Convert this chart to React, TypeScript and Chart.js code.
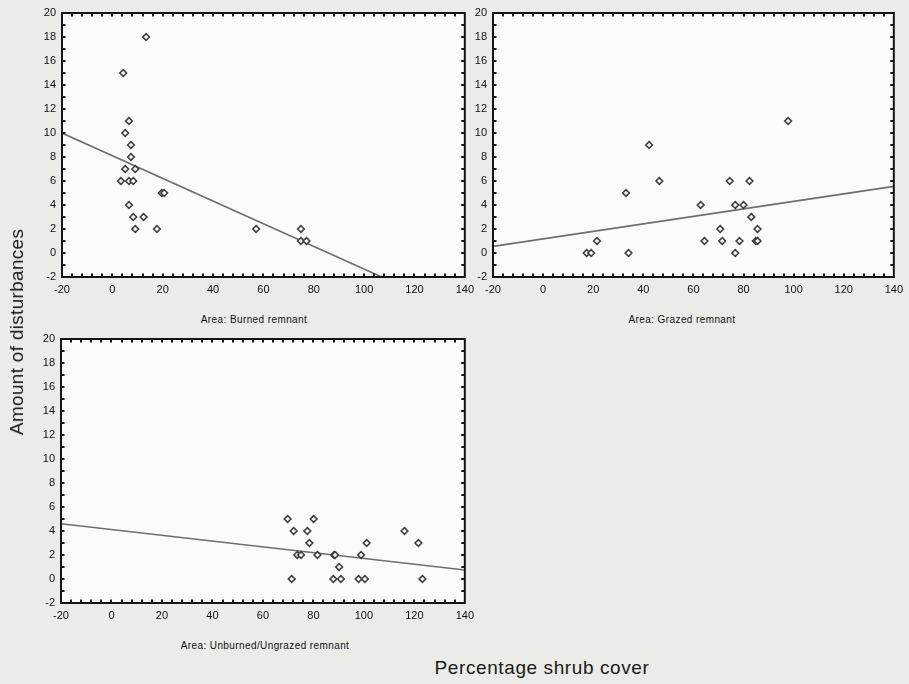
import React, { useEffect, useRef } from "react";
import { Chart, registerables } from "chart.js";

Chart.register(...registerables);

// ---- axis ranges / ticks ----
const X_MIN = -20;
const X_MAX = 140;
const X_STEP = 20;
const X_MINOR = 4;
const Y_MIN = -2;
const Y_MAX = 20;
const Y_STEP = 2;
const Y_MINOR = 1;

// ---- data: Burned remnant ----
const burnedX = [13.4, 4.3, 6.6, 5.1, 7.4, 7.4, 5.1, 9.1, 3.4, 6.6, 8.3, 19.6, 20.6, 6.6, 8.3, 12.4, 9.1, 17.7, 57.1, 74.9, 74.9, 77.1];
const burnedY = [18, 15, 11, 10, 9, 8, 7, 7, 6, 6, 6, 5, 5, 4, 3, 3, 2, 2, 2, 2, 1, 1];

// ---- data: Grazed remnant ----
const grazedX = [97.8, 42.3, 46.4, 33.1, 74.5, 82.4, 62.9, 76.7, 80, 83.1, 70.7, 85.6, 21.5, 64.4, 71.5, 78.4, 84.9, 85.6, 17.4, 19.2, 34.1, 76.7];
const grazedY = [11, 9, 6, 5, 6, 6, 4, 4, 4, 3, 2, 2, 1, 1, 1, 1, 1, 1, 0, 0, 0, 0];

// ---- data: Unburned/Ungrazed remnant ----
const unburnedX = [69.8, 80.1, 72.2, 77.6, 116.1, 78.4, 101.1, 121.6, 73.6, 75.1, 81.6, 88.2, 88.6, 98.9, 90.2, 71.4, 87.9, 90.9, 97.9, 100.4, 123.2];
const unburnedY = [5, 5, 4, 4, 4, 3, 3, 3, 2, 2, 2, 2, 2, 2, 1, 0, 0, 0, 0, 0, 0];

// ---- fitted regression lines (intercept, slope) ----
const fitIntercepts = [8.11, 1.175, 4.12];
const fitSlopes = [-0.0945, 0.03125, -0.0241];

const captions = ["Area:  Burned remnant", "Area:  Grazed remnant", "Area:  Unburned/Ungrazed remnant"];

const FONT = "'Liberation Sans', Arial, sans-serif";

const frameTicks = {
  id: "frameTicks",
  beforeDatasetsDraw(chart: any) {
    const { ctx, chartArea: a } = chart;
    ctx.save();
    ctx.fillStyle = "#fbfbfa";
    ctx.fillRect(a.left, a.top, a.right - a.left, a.bottom - a.top);
    ctx.restore();
  },
  afterDatasetsDraw(chart: any) {
    const { ctx, chartArea: a, scales } = chart;
    const xs = scales.x;
    const ys = scales.y;
    ctx.save();
    ctx.strokeStyle = "#141414";
    ctx.lineWidth = 2;
    ctx.strokeRect(a.left, a.top, a.right - a.left, a.bottom - a.top);
    ctx.lineWidth = 2;
    ctx.beginPath();
    for (let v = X_MIN + X_MINOR; v < X_MAX - 0.001; v += X_MINOR) {
      const p = Math.round(xs.getPixelForValue(v));
      ctx.moveTo(p, a.top);
      ctx.lineTo(p, a.top + 3.5);
      ctx.moveTo(p, a.bottom);
      ctx.lineTo(p, a.bottom - 3.5);
    }
    for (let v = Y_MIN + Y_MINOR; v < Y_MAX - 0.001; v += Y_MINOR) {
      const p = Math.round(ys.getPixelForValue(v));
      ctx.moveTo(a.left, p);
      ctx.lineTo(a.left + 3.5, p);
      ctx.moveTo(a.right, p);
      ctx.lineTo(a.right - 3.5, p);
    }
    ctx.stroke();
    ctx.restore();
  },
};

type PanelProps = {
  xs: number[];
  ys: number[];
  idx: number;
  left: number;
  top: number;
  width: number;
  height: number;
  yAxisWidth: number;
  padTop: number;
  padRight: number;
  xAxisHeight: number;
};

function Panel(p: PanelProps) {
  const ref = useRef<HTMLCanvasElement | null>(null);
  useEffect(() => {
    if (!ref.current) return;
    const pts = p.xs.map((x, i) => ({ x, y: p.ys[i] }));
    const b = fitIntercepts[p.idx];
    const m = fitSlopes[p.idx];
    const line = [X_MIN, X_MAX].map((x) => ({ x, y: b + m * x }));
    const tickFont = { family: FONT, size: 11 };
    const chart = new Chart(ref.current, {
      type: "scatter",
      data: {
        datasets: [
          {
            data: pts,
            pointStyle: "rectRot",
            pointRadius: 3.4,
            borderWidth: 1.5,
            borderColor: "#3e3e3e",
            backgroundColor: "#f2f2f2",
          },
          {
            data: line,
            showLine: true,
            pointRadius: 0,
            borderColor: "#6e6e6e",
            borderWidth: 1.6,
          },
        ],
      },
      options: {
        animation: false,
        responsive: false,
        devicePixelRatio: 1,
        layout: { padding: { top: p.padTop, right: p.padRight, left: 0, bottom: 0 } },
        plugins: { legend: { display: false }, tooltip: { enabled: false } },
        scales: {
          x: {
            type: "linear",
            min: X_MIN,
            max: X_MAX,
            ticks: { stepSize: X_STEP, padding: 6, color: "#111", font: tickFont, maxRotation: 0 },
            grid: { display: false, drawTicks: false },
            border: { display: false },
            afterFit: (s: any) => {
              s.height = p.xAxisHeight;
            },
          },
          y: {
            type: "linear",
            min: Y_MIN,
            max: Y_MAX,
            ticks: { stepSize: Y_STEP, padding: 6, color: "#111", font: tickFont },
            grid: { display: false, drawTicks: false },
            border: { display: false },
            afterFit: (s: any) => {
              s.width = p.yAxisWidth;
            },
          },
        },
      },
      plugins: [frameTicks],
    } as any);
    return () => chart.destroy();
  }, []);
  return (
    <canvas
      ref={ref}
      width={p.width}
      height={p.height}
      style={{ position: "absolute", left: p.left, top: p.top, width: p.width, height: p.height }}
    />
  );
}

const captionStyle: React.CSSProperties = {
  position: "absolute",
  fontSize: 10,
  letterSpacing: 0.4,
  color: "#111",
  whiteSpace: "nowrap",
  transform: "translate(-50%, -50%)",
};

export default function App() {
  return (
    <div
      style={{
        position: "absolute",
        left: 0,
        top: 0,
        width: 909,
        height: 684,
        overflow: "hidden",
        background: "#ebebe8",
        fontFamily: FONT,
      }}
    >
      <Panel xs={burnedX} ys={burnedY} idx={0} left={0} top={0} width={480} height={300} yAxisWidth={62} padTop={13} padRight={13} xAxisHeight={23} />
      <Panel xs={grazedX} ys={grazedY} idx={1} left={430} top={0} width={479} height={300} yAxisWidth={63} padTop={13} padRight={10} xAxisHeight={23} />
      <Panel xs={unburnedX} ys={unburnedY} idx={2} left={0} top={326} width={480} height={300} yAxisWidth={61} padTop={13} padRight={13} xAxisHeight={23} />

      <div style={{ ...captionStyle, left: 254, top: 319 }}>{captions[0]}</div>
      <div style={{ ...captionStyle, left: 682, top: 319 }}>{captions[1]}</div>
      <div style={{ ...captionStyle, left: 265, top: 645 }}>{captions[2]}</div>

      <div
        style={{
          position: "absolute",
          left: 542,
          top: 668,
          transform: "translate(-50%, -50%)",
          fontSize: 19,
          letterSpacing: 0.6,
          color: "#1a1a1a",
          whiteSpace: "nowrap",
        }}
      >
        Percentage shrub cover
      </div>
      <div
        style={{
          position: "absolute",
          left: 17,
          top: 332,
          transform: "translate(-50%, -50%) rotate(-90deg)",
          fontSize: 19,
          letterSpacing: 0.3,
          color: "#1a1a1a",
          whiteSpace: "nowrap",
        }}
      >
        Amount of disturbances
      </div>
    </div>
  );
}
